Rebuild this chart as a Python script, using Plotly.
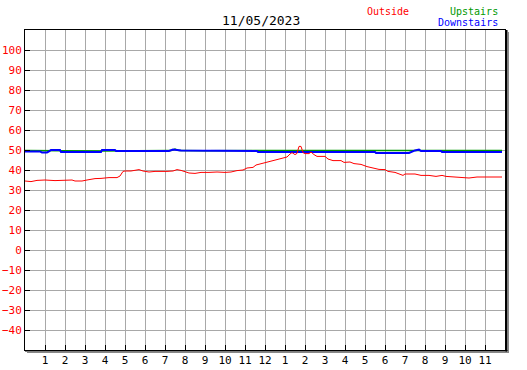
import plotly.graph_objects as go

# ---- data ----
title_text = "11/05/2023"
x_tick_vals = list(range(1, 24))
x_tick_text = [str(h) for h in range(1, 12)] + ["12"] + [str(h) for h in range(1, 12)]
y_tick_vals = list(range(-40, 101, 10))

outside_t = [0, 0.3, 0.6, 1.0, 1.5, 2.0, 2.35, 2.5, 2.85, 3.1, 3.5, 3.8, 4.2, 4.6, 4.75, 4.9,
             5.0, 5.3, 5.5, 5.7, 5.9, 6.2, 6.5, 6.8, 7.1, 7.4, 7.6, 7.8, 8.0, 8.2, 8.5, 8.8,
             9.2, 9.6, 10.0, 10.3, 10.6, 10.9, 11.1, 11.4, 11.55, 11.75, 12.0, 12.3, 12.6,
             12.9, 13.1, 13.25, 13.35, 13.5, 13.6, 13.7, 13.8, 13.9, 14.0, 14.2, 14.3, 14.45,
             14.6, 15.0, 15.15, 15.4, 15.8, 15.95, 16.25, 16.45, 16.8, 17.1, 17.4, 17.7, 18.0,
             18.15, 18.5, 18.75, 18.9, 19.0, 19.5, 19.8, 20.2, 20.55, 20.85, 21.05, 21.6, 21.9,
             22.2, 22.6, 23.2, 23.85]
outside_v = [34.5, 34.2, 34.8, 35.0, 34.7, 35.0, 35.0, 34.5, 34.5, 35.0, 35.7, 35.8, 36.2, 36.2,
             37.0, 39.3, 39.5, 39.5, 40.0, 40.2, 39.5, 39.0, 39.3, 39.2, 39.3, 39.5, 40.2, 39.8,
             39.2, 38.5, 38.3, 38.8, 38.8, 39.0, 38.8, 39.0, 39.7, 40.0, 41.0, 41.3, 42.5, 43.0,
             44.0, 44.5, 45.3, 46.0, 46.5, 48.0, 48.7, 47.7, 48.3, 51.8, 51.8, 48.7, 48.2, 48.2,
             49.0, 47.7, 46.8, 46.8, 45.5, 44.7, 44.7, 43.8, 44.0, 43.2, 42.8, 41.7, 41.0, 40.3,
             40.2, 39.3, 38.8, 38.0, 37.3, 38.0, 38.0, 37.3, 37.3, 36.8, 37.3, 36.8, 36.3, 36.0,
             36.0, 36.5, 36.5, 36.5]

down_t = [0, 0.75, 0.85, 1.1, 1.2, 1.3, 1.75, 1.8, 3.8, 3.85, 4.5, 4.55, 7.2, 7.4, 7.8, 9.0,
          11.6, 11.65, 17.5, 17.55, 19.2, 19.5, 19.7, 19.8, 20.8, 20.85, 23.85]
down_v = [49.3, 49.3, 48.7, 48.8, 49.3, 50.0, 50.0, 49.0, 49.0, 50.0, 50.0, 49.5, 49.5, 50.2,
          49.8, 49.7, 49.5, 49.0, 49.0, 48.5, 48.5, 49.8, 50.2, 49.5, 49.5, 49.0, 49.0]

up_t = [0, 1.8, 3.8, 7.3, 7.5, 7.7, 9.0, 13.0, 17.5, 19.5, 23.85]
up_v = [49.8, 49.7, 49.5, 49.7, 50.5, 49.7, 49.6, 49.8, 49.8, 49.9, 49.7]

RED = "#ff0000"
GREEN = "#009900"
BLUE = "#0000ff"
FONT = "DejaVu Sans Mono"

fig = go.Figure()
fig.add_trace(go.Scatter(x=up_t, y=up_v, mode="lines", line=dict(color=GREEN, width=1.5), name="Upstairs"))
fig.add_trace(go.Scatter(x=down_t, y=down_v, mode="lines", line=dict(color=BLUE, width=2), name="Downstairs"))
fig.add_trace(go.Scatter(x=outside_t, y=outside_v, mode="lines", line=dict(color=RED, width=1), name="Outside"))

L, R, T, B = 25, 22, 30, 20
W, H = 527, 370
pw, ph = W - L - R, H - T - B


def px_x(p):
    return (p - L) / pw


def px_y(p):
    return (H - B - p) / ph


fig.update_layout(
    width=W, height=H,
    margin=dict(l=L, r=R, t=T, b=B, pad=0, autoexpand=False),
    paper_bgcolor="white", plot_bgcolor="white",
    showlegend=False,
    font=dict(family=FONT, size=10, color="black"),
    xaxis=dict(range=[0, 24], tickvals=x_tick_vals, ticktext=x_tick_text,
               showgrid=True, gridcolor="#a8a8a8", gridwidth=1,
               ticks="inside", ticklen=5, tickcolor="black", tickwidth=1,
               showline=True, linecolor="black", linewidth=1, mirror=True,
               zeroline=False, tickfont=dict(family=FONT, size=11, color="black"),
               automargin=False, fixedrange=True),
    yaxis=dict(range=[-50, 110], tickvals=y_tick_vals,
               showgrid=True, gridcolor="#a8a8a8", gridwidth=1,
               ticks="inside", ticklen=5, tickcolor="black", tickwidth=1,
               showline=True, linecolor="black", linewidth=1, mirror=True,
               zeroline=False, tickfont=dict(family=FONT, size=11, color=RED),
               automargin=False, fixedrange=True),
)

# frame shadow on right and bottom
fig.add_shape(type="line", xref="paper", yref="paper", x0=px_x(506.5), x1=px_x(506.5),
              y0=px_y(30), y1=px_y(351.5), line=dict(color="black", width=2))
fig.add_shape(type="line", xref="paper", yref="paper", x0=px_x(508.5), x1=px_x(508.5),
              y0=px_y(32), y1=px_y(352.5), line=dict(color="#888888", width=1))
fig.add_shape(type="line", xref="paper", yref="paper", x0=px_x(25), x1=px_x(507.5),
              y0=px_y(350.8), y1=px_y(350.8), line=dict(color="black", width=1.5))
fig.add_shape(type="line", xref="paper", yref="paper", x0=px_x(27), x1=px_x(509),
              y0=px_y(352.5), y1=px_y(352.5), line=dict(color="#888888", width=1))

fig.add_annotation(text=title_text, xref="paper", yref="paper", x=px_x(261), y=px_y(20),
                   xanchor="center", yanchor="middle", showarrow=False,
                   font=dict(family=FONT, size=13, color="black"))
fig.add_annotation(text="Outside", xref="paper", yref="paper", x=px_x(411), y=px_y(11),
                   xanchor="right", yanchor="middle", showarrow=False,
                   font=dict(family=FONT, size=10, color=RED))
fig.add_annotation(text="Upstairs", xref="paper", yref="paper", x=px_x(500), y=px_y(11),
                   xanchor="right", yanchor="middle", showarrow=False,
                   font=dict(family=FONT, size=10, color=GREEN))
fig.add_annotation(text="Downstairs", xref="paper", yref="paper", x=px_x(500), y=px_y(23),
                   xanchor="right", yanchor="middle", showarrow=False,
                   font=dict(family=FONT, size=10, color=BLUE))

fig.write_html("out.html", config={"displayModeBar": False},
               post_script="document.body.style.margin='0px';document.body.style.overflow='hidden';")
